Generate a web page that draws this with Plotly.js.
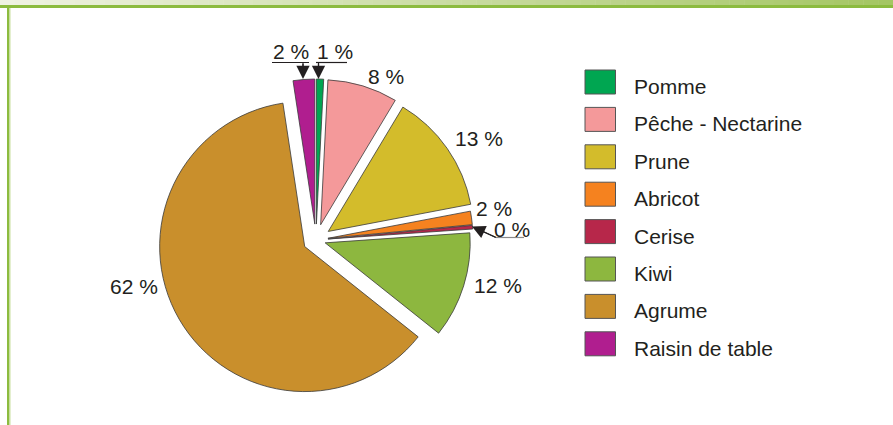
<!DOCTYPE html>
<html><head><meta charset="utf-8">
<script src="https://cdn.plot.ly/plotly-3.0.1.min.js"></script>
<style>html,body{margin:0;padding:0;background:#fff}#chart{width:893px;height:425px}</style>
</head><body><div id="chart"></div>
<script>
// ---- data ----
const categories = ['Pomme', 'Pêche - Nectarine', 'Prune', 'Abricot', 'Cerise', 'Kiwi', 'Agrume', 'Raisin de table'];
const shares = [0.8, 7.8, 13.4, 1.5, 0.4, 11.8, 61.9, 2.4];
const percentLabels = ['1 %', '8 %', '13 %', '2 %', '0 %', '12 %', '62 %', '2 %'];
const colors = ['#00a651', '#f4999a', '#d3bc2b', '#f5821f', '#b7274a', '#8db73f', '#c98f2c', '#b01e8f'];

// ---- layout helpers ----
const W = 893, H = 425;
const px = x => x / W;
const py = y => 1 - y / H;
const FONT = 'Liberation Sans, Arial, sans-serif';
const TXT = '#231f20';

const trace = {
  type: 'pie',
  labels: categories,
  values: shares,
  sort: false,
  direction: 'clockwise',
  rotation: 0,
  textinfo: 'none',
  hoverinfo: 'label+percent',
  showlegend: false,
  pull: [0.11, 0.11, 0.103, 0.083, 0.083, 0.066, 0.09, 0.11],
  marker: {colors: colors, line: {color: '#3a3a3a', width: 0.8}},
  domain: {x: [px(155), px(477)], y: [py(401), py(79)]}
};

const shapes = [];
const annotations = [];

// decorative frame: top gradient band
const N = 60;
const c0 = [239, 242, 226], c1 = [164, 198, 99];
for (let i = 0; i < N; i++) {
  const t = i / (N - 1);
  const c = c0.map((v, k) => Math.round(v + (c1[k] - v) * t));
  shapes.push({type: 'rect', xref: 'paper', yref: 'paper', layer: 'below',
    x0: px(i * W / N), x1: px((i + 1) * W / N + 0.5), y0: py(5), y1: py(0),
    fillcolor: `rgb(${c.join(',')})`, line: {width: 0}});
}
shapes.push({type: 'rect', xref: 'paper', yref: 'paper', x0: 0, x1: 1, y0: py(8), y1: py(5),
  fillcolor: '#8cbb3f', line: {width: 0}});
shapes.push({type: 'rect', xref: 'paper', yref: 'paper', x0: px(7), x1: px(9.5), y0: 0, y1: py(5),
  fillcolor: '#8cbb3f', line: {width: 0}});
shapes.push({type: 'rect', xref: 'paper', yref: 'paper', x0: px(9.5), x1: px(10.5), y0: 0, y1: py(8),
  fillcolor: '#c9e0a0', line: {width: 0}});

// custom legend built from categories / colors
categories.forEach((name, i) => {
  const yc = 82 + 37.4 * i;
  shapes.push({type: 'rect', xref: 'paper', yref: 'paper',
    x0: px(585), x1: px(615.5), y0: py(yc + 12), y1: py(yc - 12),
    fillcolor: colors[i], line: {color: '#555', width: 1}});
  annotations.push({xref: 'paper', yref: 'paper', x: px(632), y: py(yc + 4.5),
    xanchor: 'left', yanchor: 'middle', showarrow: false, text: name,
    font: {family: FONT, size: 21, color: TXT}});
});

// slice labels
const labelPos = [[335, 51], [386, 76], [479, 138], [494, 209], [512, 229], [498, 285], [134, 286], [291, 51]];
percentLabels.forEach((t, i) => {
  annotations.push({xref: 'paper', yref: 'paper', x: px(labelPos[i][0]), y: py(labelPos[i][1]),
    xanchor: 'center', yanchor: 'middle', showarrow: false, text: t,
    font: {family: FONT, size: 21, color: TXT}});
});

// leader lines
function seg(x0, y0, x1, y1, col) {
  shapes.push({type: 'line', xref: 'paper', yref: 'paper', x0: px(x0), y0: py(y0), x1: px(x1), y1: py(y1),
    line: {color: col || TXT, width: 1.2}});
}
function arrow(xh, yh, xt, yt, col) {
  annotations.push({xref: 'paper', yref: 'paper', x: px(xh), y: py(yh), ax: xt - xh, ay: yt - yh,
    text: ' ', font: {size: 1}, borderpad: 0, showarrow: true, arrowhead: 2, arrowsize: 2.2,
    arrowwidth: 1.2, arrowcolor: col || TXT, standoff: 0, startstandoff: 0});
}
seg(272, 62.5, 309, 62.5); seg(303, 62.5, 303, 70);
arrow(303, 79, 303, 63);
seg(316, 62.5, 347, 62.5); seg(318.5, 62.5, 318.5, 70);
arrow(318.5, 79, 318.5, 63);
seg(496, 237.5, 524, 237.5, '#8a8a8a');
seg(496, 237.5, 482, 231, '#231f20');
arrow(472, 226.5, 496, 237.5);

const layout = {
  width: W, height: H,
  margin: {l: 0, r: 0, t: 0, b: 0},
  paper_bgcolor: '#ffffff',
  showlegend: false,
  shapes: shapes,
  annotations: annotations,
  font: {family: FONT}
};

Plotly.newPlot('chart', [trace], layout, {displayModeBar: false, staticPlot: true});
</script>
</body></html>
